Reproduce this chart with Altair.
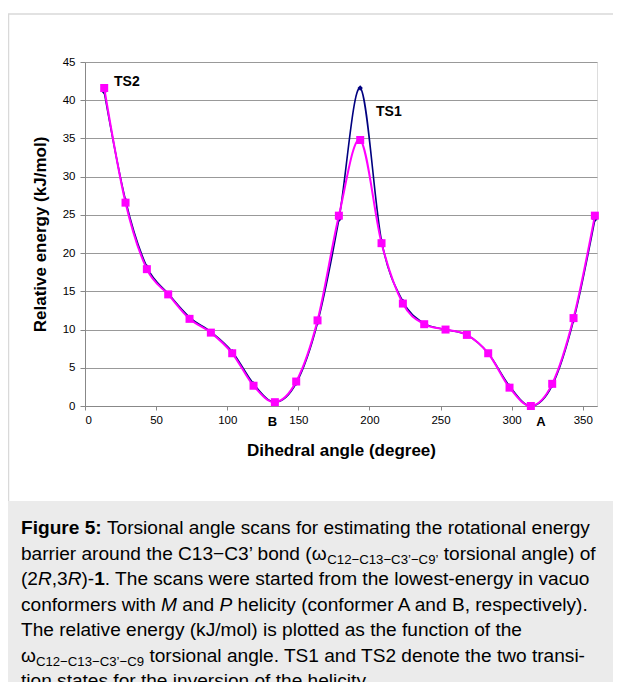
import altair as alt
import pandas as pd

# ---------------- data ----------------
angles = [13.5, 28.5, 43.5, 58.5, 73.5, 88.5, 103.5, 118.5, 133.5, 148.5, 163.5, 178.5,
          193.5, 208.5, 223.5, 238.5, 253.5, 268.5, 283.5, 298.5, 313.5, 328.5, 343.5, 358.5]
energy_pink = [41.6, 26.6, 17.9, 14.6, 11.4, 9.6, 6.9, 2.65, 0.5, 3.2, 11.2, 24.9,
               34.8, 21.3, 13.4, 10.7, 10.0, 9.3, 6.9, 2.4, 0.0, 2.9, 11.5, 24.9]
energy_blue = [41.1, 26.9, 18.2, 14.7, 11.6, 9.7, 7.1, 2.9, 0.5, 3.0, 10.9, 24.4,
               41.6, 21.6, 13.7, 10.8, 10.0, 9.3, 6.9, 2.6, 0.0, 2.7, 11.2, 24.4]
series_names = ["M", "P"]
series_colors = ["#000080", "#FF00FF"]

x_ticks = [0, 50, 100, 150, 200, 250, 300, 350]
y_ticks = [0, 5, 10, 15, 20, 25, 30, 35, 40, 45]

ann_text = ["TS2", "TS1"]
ann_x = [20.4, 204.6]
ann_y = [42.4, 38.5]
conf_text = ["B", "A"]
conf_x = [131.8, 320.6]
conf_y = [-2.1, -2.1]

caption_lines = [
    [("Figure 5:", "b"), (" Torsional angle scans for estimating the rotational energy", "n")],
    [("barrier around the C13\u2212C3\u2019 bond (\u03c9", "n"), ("C12\u2212C13\u2212C3\u2019\u2212C9\u2019", "s"),
     (" torsional angle) of", "n")],
    [("(2", "n"), ("R", "i"), (",3", "n"), ("R", "i"), (")-", "n"), ("1", "b"),
     (". The scans were started from the lowest-energy in vacuo", "n")],
    [("conformers with ", "n"), ("M", "i"), (" and ", "n"), ("P", "i"),
     (" helicity (conformer A and B, respectively).", "n")],
    [("The relative energy (kJ/mol) is plotted as the function of the", "n")],
    [("\u03c9", "n"), ("C12\u2212C13\u2212C3\u2019\u2212C9", "s"),
     (" torsional angle. TS1 and TS2 denote the two transi-", "n")],
    [("tion states for the inversion of the helicity.", "n")],
]

# ---------------- layout constants ----------------
W, H = 512, 344
PAD_L, PAD_T, PAD_R, PAD_B = 77, 54, 16, 276
FONT = "Liberation Sans"
CAP_SIZE, SUB_SIZE, SUB_DROP = 19.1, 13.2, 4.5
CAP_X, CAP_Y0, CAP_DY = -64, 472, 25.5

# Arial-compatible advance widths (per 1000 em)
W_REG = {" ": 278, "(": 333, ")": 333, ",": 278, "-": 333, ".": 278, "/": 278, ":": 278,
         "\u2019": 222, "\u2212": 584, "\u03c9": 781,
         "A": 667, "B": 667, "C": 722, "F": 611, "J": 500, "M": 833, "P": 667, "R": 722,
         "S": 667, "T": 611,
         "a": 556, "b": 556, "c": 500, "d": 556, "e": 556, "f": 278, "g": 556, "h": 556,
         "i": 222, "j": 222, "k": 500, "l": 222, "m": 833, "n": 556, "o": 556, "p": 556,
         "q": 556, "r": 333, "s": 500, "t": 278, "u": 556, "v": 500, "w": 722, "x": 500,
         "y": 500, "z": 500}
W_BOLD = {" ": 278, "F": 611, "i": 278, "g": 611, "u": 611, "r": 389, "e": 556, ":": 333}


def text_width(s, style, size):
    tbl = W_BOLD if style == "b" else W_REG
    return sum(tbl.get(c, 556) for c in s) * size / 1000.0


cap_rows = []
for i, line in enumerate(caption_lines):
    cx = CAP_X
    base = CAP_Y0 + i * CAP_DY
    for txt, st in line:
        size = SUB_SIZE if st == "s" else CAP_SIZE
        lead = len(txt) - len(txt.lstrip(" "))
        cap_rows.append({"px": cx + lead * 0.278 * size,
                         "py": base + (SUB_DROP if st == "s" else 0),
                         "t": txt.strip(), "st": st})
        cx += text_width(txt, st, size)
cap_df = pd.DataFrame(cap_rows)

# ---------------- main chart ----------------
df = pd.DataFrame({
    "angle": angles * 2,
    "energy": energy_blue + energy_pink,
    "series": [series_names[0]] * len(angles) + [series_names[1]] * len(angles),
})

xs = alt.Scale(domain=[0, 360], nice=False, zero=False)
ys = alt.Scale(domain=[0, 45], nice=False, zero=False)

x_axis = alt.Axis(
    values=x_ticks, title="Dihedral angle (degree)", grid=False, labelOverlap=False,
    labelFont=FONT, labelFontSize=11.5, labelColor="black", labelPadding=4,
    tickSize=4, tickColor="#888888", domainColor="#888888",
    titleFont=FONT, titleFontSize=17, titleFontWeight="bold", titleColor="black",
    titleY=49, titleBaseline="alphabetic")
y_axis = alt.Axis(
    values=y_ticks, title="Relative energy (kJ/mol)", grid=True, gridColor="#999999",
    labelOverlap=False,
    labelFont=FONT, labelFontSize=11.5, labelColor="black", labelPadding=5,
    tickSize=5, tickColor="#888888", domainColor="#888888",
    titleFont=FONT, titleFontSize=17, titleFontWeight="bold", titleColor="black",
    titleX=-45, titleBaseline="middle")


def xe(field="angle"):
    return alt.X(f"{field}:Q", scale=xs, axis=x_axis)


def ye(field="energy"):
    return alt.Y(f"{field}:Q", scale=ys, axis=y_axis)


color = alt.Color("series:N", scale=alt.Scale(domain=series_names, range=series_colors), legend=None)

blue = alt.Chart(df).transform_filter(alt.datum.series == "M")
pink = alt.Chart(df).transform_filter(alt.datum.series == "P")

blue_line = blue.mark_line(interpolate="cardinal", strokeWidth=1.6).encode(x=xe(), y=ye(), color=color)
blue_pts = blue.mark_point(shape="diamond", filled=True, size=28, opacity=1).encode(
    x=xe(), y=ye(), color=color)
pink_line = pink.mark_line(interpolate="cardinal", strokeWidth=2).encode(x=xe(), y=ye(), color=color)
pink_pts = pink.mark_point(shape="square", filled=True, size=64, opacity=1).encode(
    x=xe(), y=ye(), color=color)

ann_df = pd.DataFrame({"angle": ann_x, "energy": ann_y, "t": ann_text})
ann = alt.Chart(ann_df).mark_text(align="left", baseline="middle", font=FONT, fontSize=14,
                                  fontWeight="bold", color="black").encode(
    x=xe(), y=ye(), text="t:N")
conf_df = pd.DataFrame({"angle": conf_x, "energy": conf_y, "t": conf_text})
conf = alt.Chart(conf_df).mark_text(align="center", baseline="middle", font=FONT, fontSize=13,
                                    fontWeight="bold", color="black").encode(
    x=xe(), y=ye(), text="t:N")

main = alt.layer(blue_line, blue_pts, pink_line, pink_pts, ann, conf)

# ---------------- figure frame and caption ----------------
one = pd.DataFrame({"a": [0]})
box = alt.Chart(one).mark_rect(color="#ebebeb").encode(
    x=alt.value(-PAD_L), x2=alt.value(W + PAD_R), y=alt.value(439), y2=alt.value(H + PAD_B))
frame_top = alt.Chart(one).mark_rule(color="#d9d9d9", strokeWidth=1.5).encode(
    x=alt.value(-PAD_L), x2=alt.value(W + PAD_R), y=alt.value(-48))
frame_left = alt.Chart(one).mark_rule(color="#d9d9d9", strokeWidth=1.5).encode(
    x=alt.value(-PAD_L + 0.5), y=alt.value(-48), y2=alt.value(439))

cx_enc = alt.X("px:Q", scale=None, axis=None)
cy_enc = alt.Y("py:Q", scale=None, axis=None)
cap_layers = []
for st, kw in [("n", {}), ("b", {"fontWeight": "bold"}), ("i", {"fontStyle": "italic"})]:
    cap_layers.append(alt.Chart(cap_df).transform_filter(alt.datum.st == st).mark_text(
        align="left", baseline="alphabetic", font=FONT, fontSize=CAP_SIZE, color="black", **kw
    ).encode(x=cx_enc, y=cy_enc, text="t:N"))
cap_layers.append(alt.Chart(cap_df).transform_filter(alt.datum.st == "s").mark_text(
    align="left", baseline="alphabetic", font=FONT, fontSize=SUB_SIZE, color="black"
).encode(x=cx_enc, y=cy_enc, text="t:N"))

deco = alt.layer(box, frame_top, frame_left, *cap_layers)

chart = alt.layer(deco, main).resolve_scale(x="independent", y="independent").properties(
    width=W, height=H,
    autosize=alt.AutoSizeParams(type="none"),
    padding={"left": PAD_L, "top": PAD_T, "right": PAD_R, "bottom": PAD_B},
).configure_view(stroke="#999999").configure(background="white")

chart.save("out.html", embed_options={"renderer": "svg", "actions": False})
